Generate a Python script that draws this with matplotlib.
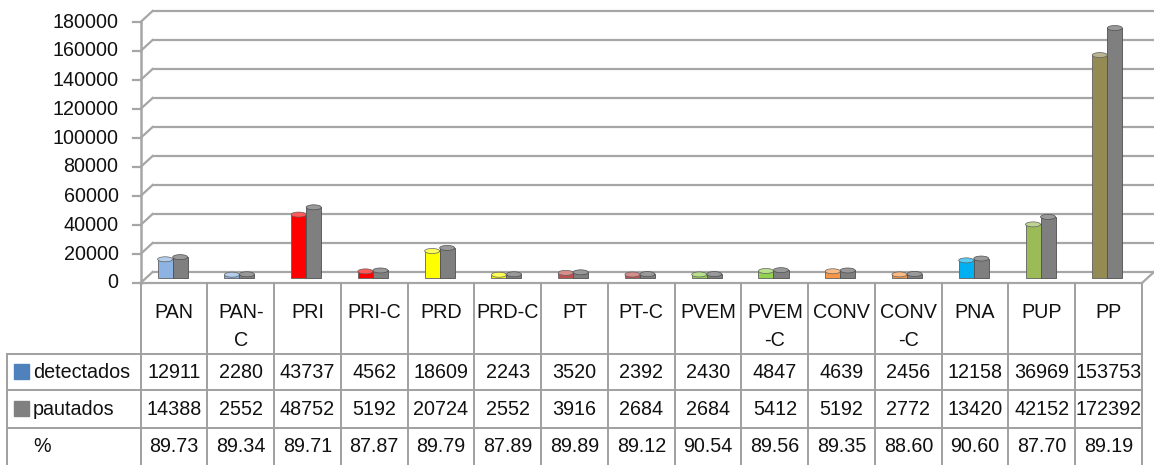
import matplotlib
matplotlib.use('Agg')
import matplotlib.pyplot as plt
from matplotlib.transforms import offset_copy
from matplotlib.patches import Ellipse
import matplotlib.colors as mcolors
import numpy as np

plt.rcParams['font.family'] = ['Liberation Sans', 'DejaVu Sans']

# ---------------- dados ----------------
partidos = ['PAN', 'PAN-\nC', 'PRI', 'PRI-C', 'PRD', 'PRD-C', 'PT', 'PT-C', 'PVEM',
            'PVEM\n-C', 'CONV', 'CONV\n-C', 'PNA', 'PUP', 'PP']
detectados = [12911, 2280, 43737, 4562, 18609, 2243, 3520, 2392, 2430,
              4847, 4639, 2456, 12158, 36969, 153753]
pautados = [14388, 2552, 48752, 5192, 20724, 2552, 3916, 2684, 2684,
            5412, 5192, 2772, 13420, 42152, 172392]
porcentagem = ['89.73', '89.34', '89.71', '87.87', '89.79', '87.89', '89.89', '89.12',
               '90.54', '89.56', '89.35', '88.60', '90.60', '87.70', '89.19']
cores_det = ['#8DB3E2', '#8DB3E2', '#FF0000', '#FF0000', '#FFFF00', '#FFFF00',
             '#C0504D', '#C0504D', '#92D050', '#92D050', '#F79646', '#F79646',
             '#00B0F0', '#9BBB59', '#948A54']
cor_paut = '#7F7F7F'
yticks = [0, 20000, 40000, 60000, 80000, 100000, 120000, 140000, 160000, 180000]

# ---------------- figura ----------------
W, H = 1154, 465
fig = plt.figure(figsize=(W / 100, H / 100), dpi=100)

x_esq, x_dir = 140.6, 1142
y_base, y_topo = 278, 17   # profundidade media (pixels a partir do topo)
ax = fig.add_axes([x_esq / W, (H - y_base) / H, (x_dir - x_esq) / W, (y_base - y_topo) / H])
ax.set_xlim(-0.5, len(partidos) - 0.5)
ax.set_ylim(0, 180000)
ax.axis('off')

frente = offset_copy(ax.transData, fig=fig, x=0, y=-5, units='dots')
fundo = offset_copy(ax.transData, fig=fig, x=12, y=6, units='dots')
cinza = '#A6A6A6'
fs = 14.2

# grade no fundo + parede lateral
for v in yticks:
    ax.plot([-0.5, len(partidos) - 0.5 + 10 / 66.8], [v, v], color=cinza, lw=1.6,
            transform=fundo, clip_on=False, zorder=1)
    p_f = frente.transform((-0.5, v))
    p_b = fundo.transform((-0.5, v))
    fig.add_artist(plt.Line2D([p_f[0] / W, p_b[0] / W], [p_f[1] / H, p_b[1] / H],
                              color=cinza, lw=1.6))
    fig.add_artist(plt.Line2D([(p_f[0] - 8) / W, p_f[0] / W], [p_f[1] / H, p_f[1] / H],
                              color=cinza, lw=1.6))
    ax.text(-0.5, v, str(v), transform=offset_copy(frente, fig=fig, x=-22, y=0, units='dots'),
            ha='right', va='center', fontsize=fs, color='#111111')

# eixo vertical (frente)
ax.plot([-0.5, -0.5], [0, 180000], color=cinza, lw=1.8, transform=frente, clip_on=False)
# piso
ax.plot([-0.5, len(partidos) - 0.5], [0, 0], color=cinza, lw=1.6, transform=frente, clip_on=False)
p_f = frente.transform((len(partidos) - 0.5, 0))
p_b = fundo.transform((len(partidos) - 0.5, 0))
fig.add_artist(plt.Line2D([p_f[0] / W, p_b[0] / W], [p_f[1] / H, p_b[1] / H], color=cinza, lw=1.6))

# barras (cilindros)
x = np.arange(len(partidos)) - 0.02
w = 0.225
tampa = 5 * 180000 / (y_base - y_topo)   # altura da elipse do topo, em unidades de dados
ax.bar(x - w / 2, detectados, width=w, color=cores_det, edgecolor='#606060', linewidth=0.6,
       zorder=3, clip_on=False)
ax.bar(x + w / 2, pautados, width=w, color=cor_paut, edgecolor='#505050', linewidth=0.6,
       zorder=3, clip_on=False)


def clarear(c, f=0.35):
    r, g, b = mcolors.to_rgb(c)
    return (r + (1 - r) * f, g + (1 - g) * f, b + (1 - b) * f)


for i in range(len(partidos)):
    ax.add_patch(Ellipse((x[i] - w / 2, detectados[i]), w, tampa, facecolor=clarear(cores_det[i]),
                         edgecolor='#606060', linewidth=0.5, zorder=4, clip_on=False))
    ax.add_patch(Ellipse((x[i] + w / 2, pautados[i]), w, tampa, facecolor=clarear(cor_paut, 0.2),
                         edgecolor='#505050', linewidth=0.5, zorder=4, clip_on=False))

# ---------------- tabela de dados ----------------
tb = fig.add_axes([0, 0, 1, 1])
tb.set_xlim(0, W)
tb.set_ylim(H, 0)
tb.axis('off')
tb.patch.set_alpha(0)

larg = (x_dir - x_esq) / len(partidos)
bordas = [x_esq + i * larg for i in range(len(partidos) + 1)]
linha = '#A0A0A0'
for bx in bordas:
    tb.plot([bx, bx], [283, H], color=linha, lw=1.4)
tb.plot([7, 7], [354, H], color=linha, lw=1.4)
for hy in [354, 390, 428]:
    tb.plot([7, x_dir], [hy, hy], color=linha, lw=1.4)

for i, nome in enumerate(partidos):
    cx = bordas[i] + larg / 2
    for k, parte in enumerate(nome.split('\n')):
        tb.text(cx, 312 + 28 * k, parte, ha='center', va='center', fontsize=fs, color='#111111')
    tb.text(cx, 372, str(detectados[i]), ha='center', va='center', fontsize=fs, color='#111111')
    tb.text(cx, 409, str(pautados[i]), ha='center', va='center', fontsize=fs, color='#111111')
    tb.text(cx, 446, porcentagem[i], ha='center', va='center', fontsize=fs, color='#111111')

# legenda na tabela
tb.add_patch(plt.Rectangle((14, 364), 15, 15, color='#4F81BD'))
tb.add_patch(plt.Rectangle((14, 401), 15, 15, color='#808080'))
tb.text(33, 372, 'detectados', ha='left', va='center', fontsize=fs, color='#111111')
tb.text(33, 409, 'pautados', ha='left', va='center', fontsize=fs, color='#111111')
tb.text(33, 446, '%', ha='left', va='center', fontsize=fs, color='#111111')

fig.savefig('out.png', dpi=100)
